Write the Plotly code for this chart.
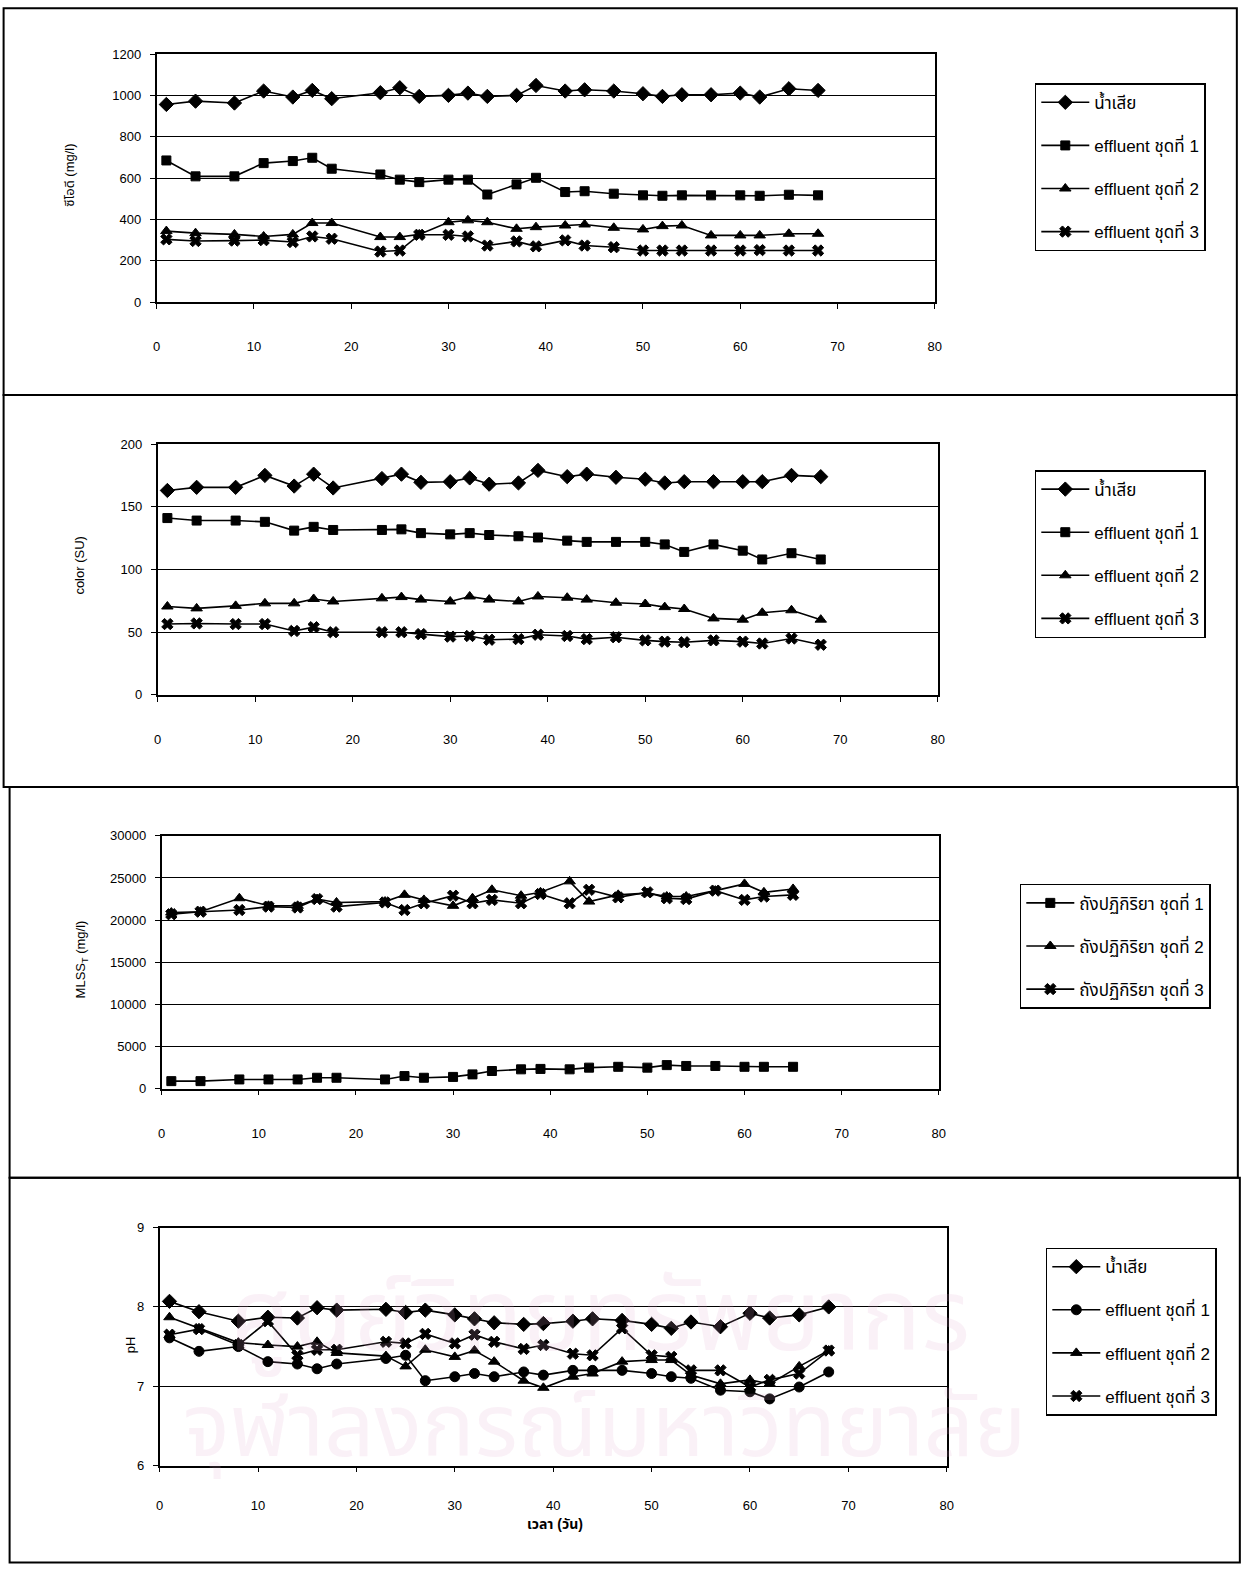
import plotly.graph_objects as go

# ---- data ----
days = [1, 4, 8, 11, 14, 16, 18, 23, 25, 27, 30, 32, 34, 37, 39, 42, 44, 47, 50, 52, 54, 57, 60, 62, 65, 68]
days_mlss = days[:25]

cod_ww = [957, 973, 964, 1022, 993, 1025, 985, 1014, 1038, 996, 1001, 1012, 996, 1001, 1049, 1022, 1028, 1022, 1009, 996, 1004, 1004, 1012, 993, 1033, 1025]
cod_e1 = [686, 609, 609, 673, 683, 699, 646, 618, 593, 581, 593, 593, 521, 570, 602, 533, 537, 525, 517, 515, 517, 517, 517, 515, 520, 517]
cod_e2 = [344, 334, 328, 318, 328, 383, 383, 315, 315, 328, 387, 396, 387, 355, 363, 371, 376, 360, 352, 368, 371, 323, 323, 323, 331, 331]
cod_e3 = [304, 296, 298, 300, 291, 318, 307, 245, 250, 326, 326, 318, 274, 294, 270, 299, 274, 266, 250, 250, 250, 250, 250, 252, 250, 250]

color_ww = [163, 165.5, 165.5, 175, 166.5, 176, 165, 172.5, 176, 169.5, 170, 173, 168, 169, 179, 174, 176, 173.5, 172, 169, 170, 170, 170, 170, 175, 174]
color_e1 = [141, 139, 139, 138, 131, 134, 131.5, 131.5, 132, 129, 128, 129, 127.5, 126.5, 125.5, 123, 122, 122, 122, 120, 114, 120, 115, 108, 113, 108]
color_e2 = [70.5, 69, 71, 73, 73, 76.5, 74.5, 77, 78, 76, 74.5, 78.5, 76, 74.5, 78.5, 77.5, 76, 73.5, 72.5, 70, 68.5, 61, 60, 65.5, 67.5, 60]
color_e3 = [56.5, 57, 56.5, 56.5, 51, 54, 50, 50, 50, 48.5, 46.5, 47, 44, 44.5, 48, 47, 44.5, 46, 43.5, 42.5, 42, 43.5, 42.5, 41, 45, 40]

mlss_t1 = [900, 900, 1100, 1100, 1100, 1300, 1300, 1100, 1500, 1300, 1400, 1700, 2100, 2300, 2350, 2300, 2500, 2600, 2500, 2800, 2700, 2700, 2600, 2600, 2600]
mlss_t2 = [20900, 21000, 22600, 21700, 21700, 22500, 22100, 22200, 23000, 22400, 21700, 22600, 23600, 22900, 23300, 24600, 22200, 23000, 23200, 22800, 22800, 23500, 24300, 23300, 23700]
mlss_t3 = [20700, 21000, 21200, 21600, 21500, 22500, 21600, 22100, 21200, 22000, 22900, 22000, 22400, 22000, 23100, 22000, 23600, 22700, 23300, 22600, 22500, 23500, 22400, 22800, 23000]

ph_ww = [8.07, 7.94, 7.82, 7.87, 7.86, 7.99, 7.96, 7.97, 7.93, 7.96, 7.90, 7.85, 7.80, 7.78, 7.79, 7.82, 7.85, 7.83, 7.78, 7.73, 7.81, 7.75, 7.92, 7.86, 7.90, 8.00]
ph_e1 = [7.61, 7.44, 7.50, 7.31, 7.28, 7.22, 7.28, 7.35, 7.39, 7.07, 7.12, 7.16, 7.12, 7.18, 7.14, 7.20, 7.20, 7.20, 7.16, 7.12, 7.10, 6.95, 6.93, 6.84, 6.99, 7.18]
ph_e2 = [7.87, 7.73, 7.55, 7.52, 7.50, 7.56, 7.42, 7.38, 7.25, 7.46, 7.37, 7.45, 7.31, 7.07, 6.98, 7.12, 7.16, 7.31, 7.33, 7.33, 7.14, 7.03, 7.08, 7.03, 7.25, 7.45]
ph_e3 = [7.65, 7.72, 7.52, 7.82, 7.39, 7.46, 7.46, 7.56, 7.54, 7.66, 7.54, 7.65, 7.56, 7.47, 7.52, 7.41, 7.39, 7.73, 7.39, 7.37, 7.20, 7.20, 6.99, 7.08, 7.16, 7.45]

names_eff = ["น้ำเสีย", "effluent ชุดที่ 1", "effluent ชุดที่ 2", "effluent ชุดที่ 3"]
names_tank = ["ถังปฏิกิริยา ชุดที่ 1", "ถังปฏิกิริยา ชุดที่ 2", "ถังปฏิกิริยา ชุดที่ 3"]

W, H = 1249, 1573
# the page shows the figure slightly inset and scaled; positions below are
# given in page pixels and converted to figure fractions here
SCALE, OFF_X, OFF_Y = 0.991, 4.4, 6.7
FONT = "Liberation Sans, Arial, Noto Sans Thai, sans-serif"


def px_x(v):
    return ((v - OFF_X) / SCALE) / W


def px_y(v):
    return 1 - ((v - OFF_Y) / SCALE) / H


fig = go.Figure()


def add_series(x, y, name, symbol, n, size=9):
    fig.add_trace(go.Scatter(
        x=x, y=y, name=name, mode="lines+markers",
        line=dict(color="black", width=1.6),
        marker=dict(symbol=symbol, size=size, color="black",
                    line=dict(color="black", width=1)),
        xaxis=f"x{n}", yaxis=f"y{n}",
        legend="legend" if n == 1 else f"legend{n}",
        legendgroup=f"{n}-{name}",
    ))


# panel 1: COD
add_series(days, cod_ww, names_eff[0], "diamond", 1, 11)
add_series(days, cod_e1, names_eff[1], "square", 1)
add_series(days, cod_e2, names_eff[2], "triangle-up", 1, 10)
add_series(days, cod_e3, names_eff[3], "x", 1, 10)
# panel 2: colour
add_series(days, color_ww, names_eff[0], "diamond", 2, 11)
add_series(days, color_e1, names_eff[1], "square", 2)
add_series(days, color_e2, names_eff[2], "triangle-up", 2, 10)
add_series(days, color_e3, names_eff[3], "x", 2, 10)
# panel 3: MLSS
add_series(days_mlss, mlss_t1, names_tank[0], "square", 3)
add_series(days_mlss, mlss_t2, names_tank[1], "triangle-up", 3, 10)
add_series(days_mlss, mlss_t3, names_tank[2], "x", 3, 10)
# panel 4: pH
add_series(days, ph_ww, names_eff[0], "diamond", 4, 11)
add_series(days, ph_e1, names_eff[1], "circle", 4, 10)
add_series(days, ph_e2, names_eff[2], "triangle-up", 4, 10)
add_series(days, ph_e3, names_eff[3], "x", 4, 10)

# plot areas in page pixels: (left, right, top, bottom)
areas = {
    1: (157, 935, 54, 302),
    2: (158, 938, 444, 695),
    3: (162, 939, 836, 1089),
    4: (160, 947, 1228, 1466),
}
yranges = {1: (0, 1200, 200), 2: (0, 200, 50), 3: (0, 30000, 5000), 4: (6, 9, 1)}
label_gap = {1: 27, 2: 27, 3: 27, 4: 22}

layout = {}
for n, (l, r, t, b) in areas.items():
    sfx = "" if n == 1 else str(n)
    ymin, ymax, dt = yranges[n]
    layout[f"xaxis{sfx}"] = dict(
        domain=[px_x(l), px_x(r)], anchor=f"y{n}", range=[0, 80], dtick=10,
        tick0=0, showgrid=False, zeroline=False, showline=True, mirror=True,
        linecolor="black", linewidth=1.5, ticks="outside", ticklen=5,
        tickcolor="black", ticklabelstandoff=label_gap[n],
        tickfont=dict(family=FONT, size=13, color="black"),
    )
    layout[f"yaxis{sfx}"] = dict(
        domain=[px_y(b), px_y(t)], anchor=f"x{n}", range=[ymin, ymax],
        dtick=dt, tick0=ymin, tickformat="d", showgrid=True,
        gridcolor="black", gridwidth=1.3,
        zeroline=False, showline=True, mirror=True, linecolor="black",
        linewidth=1.5, ticks="outside", ticklen=5, tickcolor="black",
        ticklabelstandoff=6,
        tickfont=dict(family=FONT, size=13, color="black"),
    )

legend_pos = {1: (1035, 83), 2: (1035, 470), 3: (1020, 884), 4: (1046, 1248)}
for n, (lx, ly) in legend_pos.items():
    key = "legend" if n == 1 else f"legend{n}"
    layout[key] = dict(
        x=px_x(lx), y=px_y(ly), xanchor="left", yanchor="top",
        bordercolor="black", borderwidth=1.5, bgcolor="white",
        font=dict(family=FONT, size=17, color="black"),
        tracegroupgap=18, itemwidth=48, traceorder="grouped",
    )

# panel frames (page pixels)
frames = [(4, 8, 1237, 395), (4, 395, 1237, 787), (10, 787, 1238, 1178), (10, 1178, 1240, 1563)]
shapes = [
    dict(type="rect", xref="paper", yref="paper", x0=px_x(x0), x1=px_x(x1),
         y0=px_y(y1), y1=px_y(y0), line=dict(color="black", width=2), layer="below")
    for x0, y0, x1, y1 in frames
]

wm_color = "rgba(225,170,205,0.16)"


def note(text, x, y, size=13, angle=0, color="black"):
    return dict(text=text, x=px_x(x), y=px_y(y), xref="paper", yref="paper",
                xanchor="center", yanchor="middle", textangle=angle,
                showarrow=False, font=dict(family=FONT, size=size, color=color))


annotations = [
    # library watermark
    note("ศูนย์วิทยทรัพยากร", 600, 1318, 100, color=wm_color),
    note("จุฬาลงกรณ์มหาวิทยาลัย", 605, 1428, 88, color=wm_color),
    # axis titles
    note("ซีโอดี (mg/l)", 70, 175, angle=-90),
    note("color (SU)", 80, 565, angle=-90),
    note("MLSS<sub>T</sub> (mg/l)", 82, 960, angle=-90),
    note("pH", 131, 1345, angle=-90),
    note("<b>เวลา (วัน)</b>", 555, 1525, 14),
]

fig.update_layout(
    width=W, height=H, margin=dict(l=0, r=0, t=0, b=0),
    paper_bgcolor="white", plot_bgcolor="white", showlegend=True,
    shapes=shapes, annotations=annotations, **layout,
)

fig.write_html("out.html")
